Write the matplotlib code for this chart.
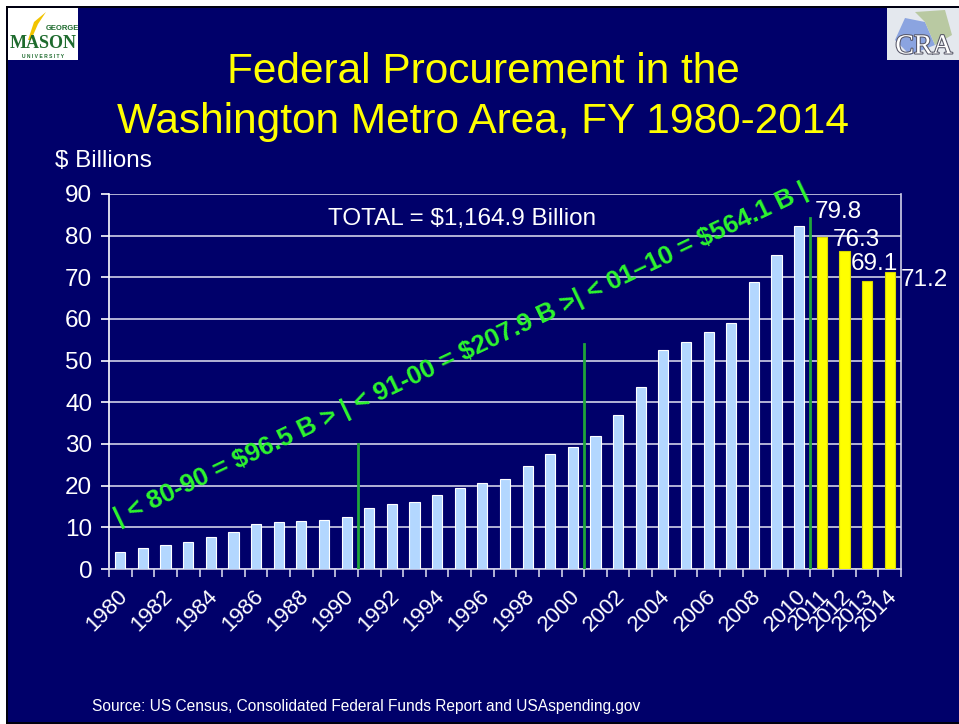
import matplotlib
matplotlib.use("Agg")
import matplotlib.pyplot as plt
import matplotlib.patheffects as pe
from matplotlib.patches import Rectangle, Polygon

W, H = 959, 724
NAVY = "#00006A"
BAR = "#B3D7FF"
YEL = "#FFFF00"
GRN = "#2EF52E"
LINEGRN = "#1FA53A"

years = list(range(1980, 2015))
values = [4.2, 5.0, 5.8, 6.6, 7.7, 9.0, 10.7, 11.4, 11.5, 11.8, 12.5,
          14.6, 15.6, 16.1, 17.8, 19.4, 20.7, 21.7, 24.7, 27.6, 29.2,
          32.0, 37.0, 43.8, 52.5, 54.4, 57.0, 59.0, 68.8, 75.4, 82.3,
          79.8, 76.3, 69.1, 71.2]
labeled_years = [str(y) for y in range(1980, 2011, 2)] + ["2011", "2012", "2013", "2014"]
recent_labels = ["79.8", "76.3", "69.1", "71.2"]
decade_marks = [(1990.5, 30), (2000.5, 54), (2010.5, 84.3)]

plt.rcParams["font.family"] = ["Liberation Sans", "DejaVu Sans"]


def fx(px):
    return px / W


def fy(py):
    return 1 - py / H


fig = plt.figure(figsize=(W / 100, H / 100), dpi=100)
fig.patch.set_facecolor(NAVY)

# slide frame
fig.add_artist(Rectangle((0, 0), fx(6), 1, transform=fig.transFigure,
                         facecolor="white", edgecolor="none", zorder=0))
fig.add_artist(Rectangle((0, fy(6)), 1, fy(0) - fy(6), transform=fig.transFigure,
                         facecolor="white", edgecolor="none", zorder=0))
fig.add_artist(plt.Line2D([fx(6.5), fx(6.5)], [0, fy(6.5)], color="black", lw=1.2,
                          transform=fig.transFigure))
fig.add_artist(plt.Line2D([fx(6.5), 1], [fy(6.5), fy(6.5)], color="black", lw=1.2,
                          transform=fig.transFigure))
fig.add_artist(plt.Line2D([fx(6.5), 1], [fy(722.5), fy(722.5)], color="black", lw=1.2,
                          transform=fig.transFigure))

# George Mason logo (approximation)
fig.add_artist(Rectangle((fx(8), fy(60)), fx(70), fy(8) - fy(60), transform=fig.transFigure,
                         facecolor="white", edgecolor="none", zorder=1))
fig.add_artist(Polygon([(fx(28), fy(40)), (fx(34), fy(22)), (fx(46), fy(12)),
                        (fx(38), fy(24)), (fx(31), fy(40))], closed=True,
                       transform=fig.transFigure, facecolor="#F2C400", edgecolor="none", zorder=2))
fig.text(fx(62), fy(29), "GEORGE", color="#1E6B2E", fontsize=5.5, fontweight="bold",
         ha="center", va="center", zorder=3)
fig.text(fx(43), fy(44), "MASON", color="#1E6B2E", fontsize=13, fontweight="bold",
         family=["Liberation Serif", "DejaVu Serif"], ha="center", va="center", zorder=3)
fig.text(fx(43), fy(56), "U N I V E R S I T Y", color="#1E6B2E", fontsize=3.6,
         fontweight="bold", ha="center", va="center", zorder=3)

# CRA logo (approximation)
fig.add_artist(Rectangle((fx(887), fy(60)), fx(72), fy(8) - fy(60), transform=fig.transFigure,
                         facecolor="#E4E8EE", edgecolor="none", zorder=1))
fig.add_artist(Polygon([(fx(895), fy(40)), (fx(905), fy(18)), (fx(925), fy(22)),
                        (fx(935), fy(45)), (fx(910), fy(55))], closed=True,
                       transform=fig.transFigure, facecolor="#8BA4E0", edgecolor="none", zorder=2))
fig.add_artist(Polygon([(fx(915), fy(12)), (fx(945), fy(10)), (fx(952), fy(35)),
                        (fx(935), fy(45)), (fx(925), fy(22))], closed=True,
                       transform=fig.transFigure, facecolor="#B9C9A2", edgecolor="none", zorder=2))
fig.text(fx(924), fy(47), "CRA", color="white", fontsize=20,
         family=["Liberation Serif", "DejaVu Serif"], ha="center", va="center", zorder=3,
         path_effects=[pe.withStroke(linewidth=1.5, foreground="#555566")])

# title
fig.text(fx(483), fy(72), "Federal Procurement in the", color=YEL, fontsize=30.5,
         ha="center", va="center")
fig.text(fx(483), fy(122), "Washington Metro Area, FY 1980-2014", color=YEL, fontsize=30.5,
         ha="center", va="center")
fig.text(fx(55), fy(161), "$ Billions", color="white", fontsize=17.5, ha="left", va="center")
fig.text(fx(92), fy(706), "Source: US Census, Consolidated Federal Funds Report and USAspending.gov",
         color="white", fontsize=11.2, ha="left", va="center")

# chart
ax = fig.add_axes([fx(109), fy(569), fx(901) - fx(109), fy(194) - fy(569)])
ax.set_facecolor(NAVY)
colors = [BAR if y <= 2010 else YEL for y in years]
edges = ["white" if y <= 2010 else "#D8D800" for y in years]
ax.bar(years, values, width=0.45, color=colors, edgecolor=edges, linewidth=0.8, zorder=3)

ax.set_xlim(years[0] - 0.5, years[-1] + 0.5)
ax.set_ylim(0, 90)
ax.set_yticks(range(0, 91, 10))
ax.yaxis.grid(True, color="#D0D0E8", lw=1.2, zorder=1)
ax.tick_params(axis="y", colors="white", labelsize=17.5, length=6, width=1.2, pad=6,
               direction="out")
for lab in ax.get_yticklabels():
    lab.set_color("white")

ax.set_xticks([y + 0.5 for y in [years[0] - 1] + years])
ax.set_xticklabels([])
ax.tick_params(axis="x", colors="#D0D0E8", length=6, width=1.2, direction="out")
for lab in labeled_years:
    ax.annotate(lab, xy=(int(lab) - 0.15, 0), xycoords="data", xytext=(0, -12),
                textcoords="offset points", rotation=45, rotation_mode="anchor",
                ha="right", va="top", color="white", fontsize=16)

ax.spines["top"].set_visible(False)
ax.spines["left"].set_color("white")
ax.spines["bottom"].set_color("#D0D0E8")
ax.spines["right"].set_color("#D0D0E8")
for s in ax.spines.values():
    s.set_linewidth(1.2)

for x, top in decade_marks:
    ax.plot([x, x], [0, top], color=LINEGRN, lw=2, zorder=4)

ax.text(1995.1, 84, "TOTAL = $1,164.9 Billion", color="white", fontsize=17.5,
        ha="center", va="center", zorder=5)

label_pos = [(2010.7, 85.8), (2011.5, 79.0), (2012.3, 73.3), (2014.5, 69.4)]
for txt, (x, y) in zip(recent_labels, label_pos):
    ax.text(x, y, txt, color="white", fontsize=17.5, ha="left", va="center", zorder=5)

ax.text(1995.05, 51.4,
        "| < 80-90 = $96.5 B > | < 91-00 = $207.9 B >| < 01\u201310 = $564.1 B |",
        color=GRN, fontsize=18.5, fontweight="bold", rotation=25.5,
        rotation_mode="anchor", ha="center", va="center", zorder=5)

fig.savefig("out.png", dpi=100, facecolor=NAVY)
